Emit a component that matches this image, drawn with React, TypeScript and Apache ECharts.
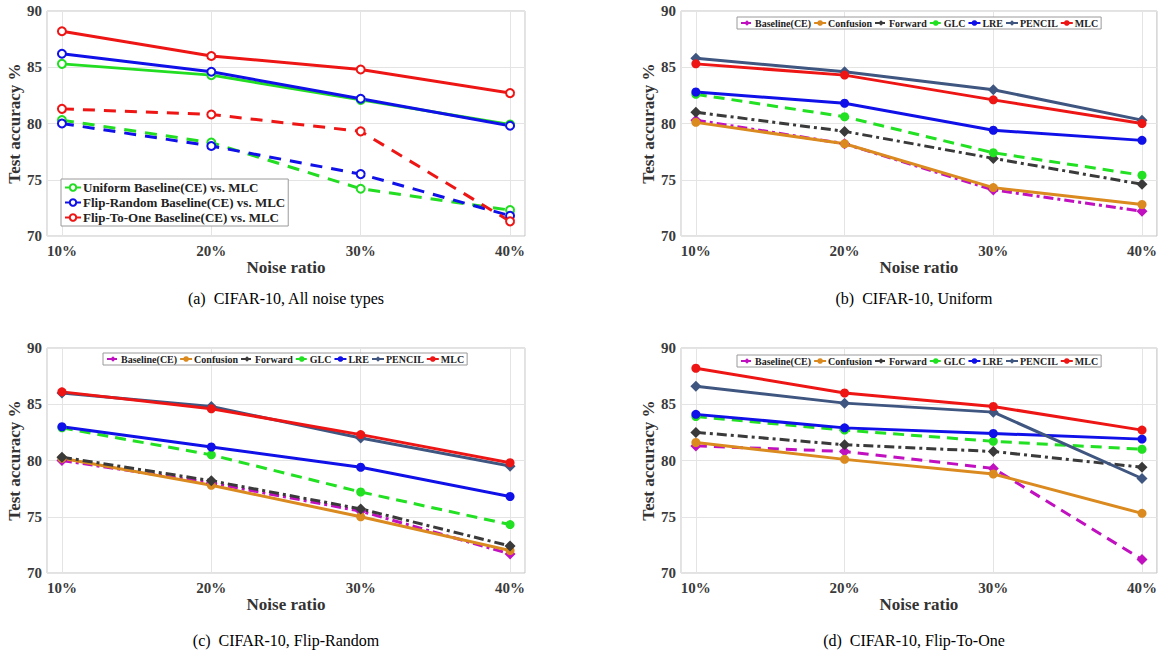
import React, { useEffect, useRef } from "react";
import * as echarts from "echarts";

// ---------- data ----------
const noise = [10, 20, 30, 40];

// (a) all noise types
const uniformMLC = [85.3, 84.3, 82.1, 79.9];
const uniformCE = [80.3, 78.3, 74.2, 72.3];
const flipRandomMLC = [86.2, 84.6, 82.2, 79.8];
const flipRandomCE = [80.0, 78.0, 75.5, 71.8];
const flipToOneMLC = [88.2, 86.0, 84.8, 82.7];
const flipToOneCE = [81.3, 80.8, 79.3, 71.3];

// (b) uniform
const uBaseline = [80.3, 78.2, 74.1, 72.2];
const uConfusion = [80.1, 78.2, 74.3, 72.8];
const uForward = [81.0, 79.3, 76.9, 74.6];
const uGLC = [82.6, 80.6, 77.4, 75.4];
const uLRE = [82.8, 81.8, 79.4, 78.5];
const uPENCIL = [85.8, 84.6, 83.0, 80.3];
const uMLC = [85.3, 84.3, 82.1, 80.0];

// (c) flip-random
const rBaseline = [80.0, 78.0, 75.5, 71.7];
const rConfusion = [80.2, 77.8, 75.0, 72.0];
const rForward = [80.3, 78.2, 75.7, 72.4];
const rGLC = [82.9, 80.5, 77.2, 74.3];
const rLRE = [83.0, 81.2, 79.4, 76.8];
const rPENCIL = [86.0, 84.8, 82.0, 79.5];
const rMLC = [86.1, 84.6, 82.3, 79.8];

// (d) flip-to-one
const oBaseline = [81.3, 80.8, 79.3, 71.2];
const oConfusion = [81.6, 80.1, 78.8, 75.3];
const oForward = [82.5, 81.4, 80.8, 79.4];
const oGLC = [83.9, 82.7, 81.7, 81.0];
const oLRE = [84.1, 82.9, 82.4, 81.9];
const oPENCIL = [86.6, 85.1, 84.3, 78.4];
const oMLC = [88.2, 86.0, 84.8, 82.7];

const methodNames = ["Baseline(CE)", "Confusion", "Forward", "GLC", "LRE", "PENCIL", "MLC"];
const panelAnames = [
  "Uniform Baseline(CE) vs. MLC",
  "Flip-Random Baseline(CE) vs. MLC",
  "Flip-To-One Baseline(CE) vs. MLC",
];
const captions = [
  "(a)  CIFAR-10, All noise types",
  "(b)  CIFAR-10, Uniform",
  "(c)  CIFAR-10, Flip-Random",
  "(d)  CIFAR-10, Flip-To-One",
];

// ---------- styles ----------
const FONT = "'Liberation Serif', 'Times New Roman', serif";
const DASH = [11, 7];
const DASHDOT = [10, 4, 3, 4];
const methodStyle: Record<string, any> = {
  "Baseline(CE)": { color: "#C010C0", type: DASHDOT, symbol: "diamond" },
  Confusion: { color: "#DA8A1E", type: "solid", symbol: "circle" },
  Forward: { color: "#3A3A3A", type: DASHDOT, symbol: "diamond" },
  GLC: { color: "#22E022", type: DASH, symbol: "circle" },
  LRE: { color: "#1010E8", type: "solid", symbol: "circle" },
  PENCIL: { color: "#3F5680", type: "solid", symbol: "diamond" },
  MLC: { color: "#EE1515", type: "solid", symbol: "circle" },
};

const grids = [
  { left: 47, top: 11, width: 478, height: 225 },
  { left: 681, top: 11, width: 477, height: 225 },
  { left: 47, top: 348, width: 478, height: 225 },
  { left: 681, top: 348, width: 477, height: 225 },
];

const pairs = (vals: number[]) => noise.map((n, i) => [n, vals[i]]);

export default function App() {
  const ref = useRef<HTMLDivElement>(null);
  useEffect(() => {
    if (!ref.current) return;
    const chart = echarts.init(ref.current, undefined, { renderer: "svg" });

    const xAxes = grids.map((_, i) => ({
      type: "value",
      gridIndex: i,
      min: 9,
      max: 41,
      splitNumber: 3,
      minInterval: 10,
      maxInterval: 10,
      name: "Noise ratio",
      nameLocation: "middle",
      nameGap: 23,
      nameTextStyle: { fontFamily: FONT, fontWeight: "bold", fontSize: 17, color: "#333" },
      axisLine: { show: false },
      axisTick: { show: false },
      axisLabel: {
        showMinLabel: false,
        showMaxLabel: false,
        margin: 7,
        fontFamily: FONT,
        fontWeight: "bold",
        fontSize: 15,
        color: "#3a3a3a",
        formatter: (v: number) => `${v}%`,
      },
      splitLine: { show: true, lineStyle: { color: "#E4E4E4", width: 1 } },
    }));

    const yAxes = grids.map((_, i) => ({
      type: "value",
      gridIndex: i,
      min: 70,
      max: 90,
      interval: 5,
      name: "Test accuracy %",
      nameLocation: "middle",
      nameGap: i % 2 === 0 ? 19 : 23,
      nameRotate: 90,
      nameTextStyle: { fontFamily: FONT, fontWeight: "bold", fontSize: 17, color: "#333" },
      axisLine: { show: false },
      axisTick: { show: false },
      axisLabel: {
        margin: 5,
        fontFamily: FONT,
        fontWeight: "bold",
        fontSize: 15,
        color: "#3a3a3a",
      },
      splitLine: { show: true, lineStyle: { color: "#E4E4E4", width: 1 } },
    }));

    const series: any[] = [];
    // panel a
    const aDefs = [
      { name: panelAnames[0], color: "#22DD22", mlc: uniformMLC, ce: uniformCE },
      { name: panelAnames[1], color: "#1010E8", mlc: flipRandomMLC, ce: flipRandomCE },
      { name: panelAnames[2], color: "#EE1515", mlc: flipToOneMLC, ce: flipToOneCE },
    ];
    aDefs.forEach((d) => {
      series.push({
        type: "line",
        name: d.name + " (CE)",
        xAxisIndex: 0,
        yAxisIndex: 0,
        data: pairs(d.ce),
        symbol: "emptyCircle",
        symbolSize: 8,
        lineStyle: { color: d.color, width: 3, type: [12, 9] },
        itemStyle: { color: d.color, borderColor: d.color, borderWidth: 2 },
      });
    });
    aDefs.forEach((d) => {
      series.push({
        type: "line",
        name: d.name,
        xAxisIndex: 0,
        yAxisIndex: 0,
        data: pairs(d.mlc),
        symbol: "emptyCircle",
        symbolSize: 8,
        lineStyle: { color: d.color, width: 3, type: "solid" },
        itemStyle: { color: d.color, borderColor: d.color, borderWidth: 2 },
      });
    });

    const panelData = [
      [uBaseline, uConfusion, uForward, uGLC, uLRE, uPENCIL, uMLC],
      [rBaseline, rConfusion, rForward, rGLC, rLRE, rPENCIL, rMLC],
      [oBaseline, oConfusion, oForward, oGLC, oLRE, oPENCIL, oMLC],
    ];
    panelData.forEach((arrs, p) => {
      arrs.forEach((vals, m) => {
        const name = methodNames[m];
        const st = methodStyle[name];
        let type = st.type;
        if (p === 2 && name === "Baseline(CE)") type = DASH;
        series.push({
          type: "line",
          name,
          xAxisIndex: p + 1,
          yAxisIndex: p + 1,
          data: pairs(vals),
          symbol: st.symbol,
          symbolSize: st.symbol === "diamond" ? 11 : 9,
          lineStyle: { color: st.color, width: 3, type },
          itemStyle: { color: st.color },
        });
      });
    });

    const smallLegend = (left: number, top: number) => ({
      data: methodNames,
      left,
      top,
      orient: "horizontal",
      itemWidth: 12,
      itemHeight: 7,
      itemGap: 2,
      padding: [1, 3],
      backgroundColor: "#fff",
      borderColor: "#9a9a9a",
      borderWidth: 1,
      selectedMode: false,
      textStyle: { fontFamily: FONT, fontWeight: "bold", fontSize: 10, color: "#222", padding: [0, 0, 0, -3] },
    });

    const option: any = {
      animation: false,
      backgroundColor: "#fff",
      grid: grids.map((g) => ({
        ...g,
        show: true,
        borderColor: "#C4C4C4",
        borderWidth: 1,
        backgroundColor: "#fff",
      })),
      xAxis: xAxes,
      yAxis: yAxes,
      legend: [
        {
          data: panelAnames,
          left: 61,
          top: 179,
          orient: "vertical",
          itemWidth: 16,
          itemHeight: 8,
          itemGap: 2,
          padding: [2, 3],
          backgroundColor: "#fff",
          borderColor: "#9a9a9a",
          borderWidth: 1,
          selectedMode: false,
          textStyle: { fontFamily: FONT, fontWeight: "bold", fontSize: 13, color: "#222", padding: [0, 0, 0, -3] },
        },
        smallLegend(737, 17),
        smallLegend(103, 353),
        smallLegend(737, 355),
      ],
      graphic: captions.map((c, i) => ({
        type: "text",
        x: i % 2 === 0 ? 286 : 914,
        y: i < 2 ? 298 : 640,
        style: {
          text: c,
          fontFamily: FONT,
          fontSize: 16,
          fill: "#000",
          align: "center",
          verticalAlign: "middle",
        },
      })),
      series,
    };
    chart.setOption(option);
    return () => chart.dispose();
  }, []);
  return (
    <div
      ref={ref}
      style={{ position: "absolute", left: 0, top: 0, width: 1160, height: 652 }}
    />
  );
}
